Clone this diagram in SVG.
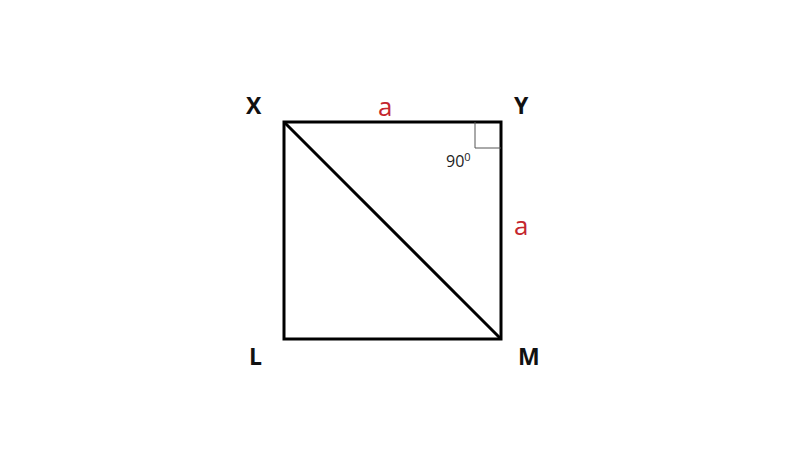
<svg xmlns="http://www.w3.org/2000/svg" width="800" height="450" viewBox="0 0 800 450">
<style>
.lbl{font-family:"Open Sans","Noto Sans","Liberation Sans",sans-serif;font-weight:bold;font-size:23px;fill:#111}
.side{font-family:"Open Sans","Noto Sans","Liberation Sans",sans-serif;font-size:26px;fill:#c4262e}
.edge{stroke:#000;stroke-width:3;fill:none}
</style>
<rect width="800" height="450" fill="#fff"/>
<g id="connectors">
<rect class="edge" x="284" y="122" width="217" height="217"/>
<line class="edge" x1="284" y1="122" x2="501" y2="339"/>
<polyline points="475,122 475,148 501,148" fill="none" stroke="#555" stroke-width="1"/>
</g>
<g id="X"><text class="lbl" x="246" y="114">X</text></g>
<g id="Y"><text class="lbl" x="514" y="114">Y</text></g>
<g id="L"><text class="lbl" x="249" y="365">L</text></g>
<g id="M"><text class="lbl" x="518" y="365">M</text></g>
<g id="side-top"><text class="side" x="378" y="116">a</text></g>
<g id="side-right"><text class="side" x="514" y="235">a</text></g>
<g id="angle"><text x="446" y="167" font-family="Open Sans, Noto Sans, sans-serif" font-size="16" fill="#222">90<tspan dy="-6" font-size="11">0</tspan></text></g>
</svg>
